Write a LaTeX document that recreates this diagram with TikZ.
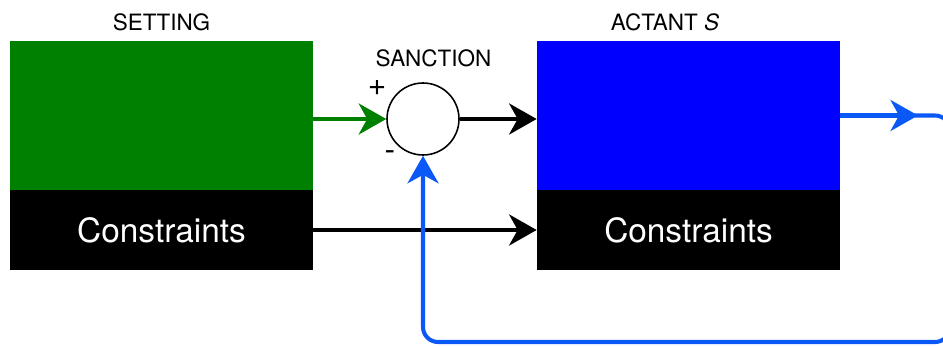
\documentclass[tikz,border=0pt]{standalone}
\usepackage{fontspec}
\setmainfont{TeX Gyre Heros}
\usetikzlibrary{arrows.meta}
\definecolor{settinggreen}{RGB}{0,128,0}
\definecolor{actantblue}{RGB}{0,0,255}
\definecolor{loopblue}{RGB}{10,88,245}
\begin{document}
\begin{tikzpicture}[
  box/.style={rectangle,inner sep=0pt,minimum width=6.06cm},
  upper/.style={box,minimum height=2.98cm},
  lower/.style={box,fill=black,minimum height=1.6cm,text=white,font=\fontsize{19}{22}\selectfont},
  title/.style={font=\fontsize{12.8}{15}\selectfont},
  sign/.style={font=\fontsize{18}{20}\selectfont},
  flow/.style={line width=2.3pt,-{Stealth[length=0.55cm,width=0.62cm,inset=0.17cm]}},
  feedback/.style={flow,loopblue,rounded corners=0.3cm}]
\useasboundingbox (0,0) rectangle (18.86,6.9);
\node[upper,fill=settinggreen] (setting) at (3.23,4.59) {};
\node[lower] (setcons) at (3.23,2.3) {Constraints};
\node[upper,fill=actantblue] (actant) at (13.77,4.59) {};
\node[lower] (actcons) at (13.77,2.3) {Constraints};
\node[circle,draw,line width=0.9pt,minimum size=1.44cm] (sanction) at (8.46,4.52) {};
\node[title] (settitle) at (3.23,6.46) {SETTING};
\node[title] (acttitle) at (13.3,6.46) {ACTANT \textit{S}};
\node[title] (sanctitle) at (8.67,5.74) {SANCTION};
\node[sign] (plus) at (7.54,5.14) {+};
\node[sign] (minus) at (7.8,3.78) {-};
\coordinate (outtip) at (18.36,4.59);
\coordinate (turn) at (19.0,4.59);
\coordinate (low) at (19.0,0.06);
\draw[flow,settinggreen] (setting.east |- sanction.west) -- (sanction.west);
\draw[flow] (sanction.east) -- (actant.west |- sanction.east);
\draw[flow] (setcons.east) -- (actcons.west);
\draw[feedback] (actant.east) -- (outtip);
\draw[feedback] (actant.east) -- (turn) -- (low) -| (sanction.south);
\end{tikzpicture}
\end{document}
